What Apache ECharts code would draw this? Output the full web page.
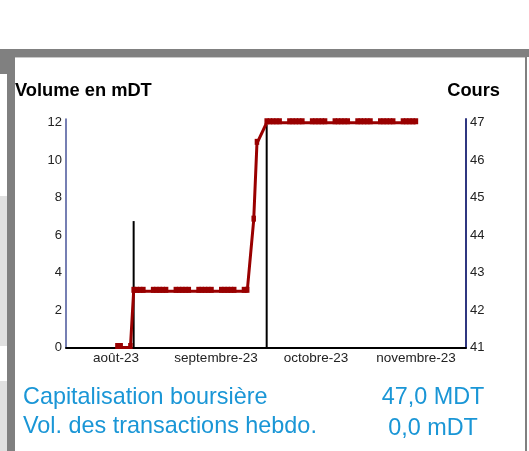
<!DOCTYPE html>
<html>
<head>
<meta charset="utf-8">
<script src="https://cdn.jsdelivr.net/npm/echarts@6/dist/echarts.min.js"></script>
<style>
html,body{margin:0;padding:0;background:#fff;}
#c{width:529px;height:451px;}
</style>
</head>
<body>
<div id="c"></div>
<script>
// ---- data ----
const monthLabels = ['août-23', 'septembre-23', 'octobre-23', 'novembre-23'];

const priceDates = [
  '2023-08-17','2023-08-18','2023-08-21',
  '2023-08-22','2023-08-23','2023-08-24','2023-08-25',
  '2023-08-28','2023-08-29','2023-08-30','2023-08-31','2023-09-01',
  '2023-09-04','2023-09-05','2023-09-06','2023-09-07','2023-09-08',
  '2023-09-11','2023-09-12','2023-09-13','2023-09-14','2023-09-15',
  '2023-09-18','2023-09-19','2023-09-20','2023-09-21','2023-09-22',
  '2023-09-25','2023-09-26','2023-09-28','2023-09-29',
  '2023-10-02','2023-10-03','2023-10-04','2023-10-05','2023-10-06',
  '2023-10-09','2023-10-10','2023-10-11','2023-10-12','2023-10-13',
  '2023-10-16','2023-10-17','2023-10-18','2023-10-19','2023-10-20',
  '2023-10-23','2023-10-24','2023-10-25','2023-10-26','2023-10-27',
  '2023-10-30','2023-10-31','2023-11-01','2023-11-02','2023-11-03',
  '2023-11-06','2023-11-07','2023-11-08','2023-11-09','2023-11-10',
  '2023-11-13','2023-11-14','2023-11-15','2023-11-16','2023-11-17'
];
const priceValues = [
  41.0, 41.0, 41.0,
  42.5, 42.5, 42.5, 42.5,
  42.5, 42.5, 42.5, 42.5, 42.5,
  42.5, 42.5, 42.5, 42.5, 42.5,
  42.5, 42.5, 42.5, 42.5, 42.5,
  42.5, 42.5, 42.5, 42.5, 42.5,
  42.5, 42.5, 44.4, 46.45,
  47.0, 47.0, 47.0, 47.0, 47.0,
  47.0, 47.0, 47.0, 47.0, 47.0,
  47.0, 47.0, 47.0, 47.0, 47.0,
  47.0, 47.0, 47.0, 47.0, 47.0,
  47.0, 47.0, 47.0, 47.0, 47.0,
  47.0, 47.0, 47.0, 47.0, 47.0,
  47.0, 47.0, 47.0, 47.0, 47.0
];

const volumeDates = ['2023-08-22', '2023-10-02'];
const volumeValues = [6.75, 11.9];

const leftTitle = 'Volume en mDT';
const rightTitle = 'Cours';
const infoLabels = ['Capitalisation boursière', 'Vol. des transactions hebdo.'];
const infoValues = ['47,0 MDT', '0,0 mDT'];

// ---- chart ----
const chart = echarts.init(document.getElementById('c'), null, {renderer: 'canvas'});
const FONT = 'Liberation Sans, Arial, sans-serif';
const GREY = '#808080';
const BLUE = '#1a96d6';

const option = {
  animation: false,
  backgroundColor: '#ffffff',
  textStyle: {fontFamily: FONT},
  title: [
    {text: leftTitle, left: 15, top: 82, padding: 0, textStyle: {fontFamily: FONT, fontSize: 18.3, fontWeight: 'bold', color: '#000'}},
    {text: rightTitle, right: 29, top: 82, padding: 0, textStyle: {fontFamily: FONT, fontSize: 18.3, fontWeight: 'bold', color: '#000'}}
  ],
  grid: {left: 66, right: 63, top: 119, bottom: 103.5, containLabel: false},
  xAxis: [
    {
      type: 'time', min: '2023-08-01T11:00:00', max: '2023-12-02T03:00:00',
      axisLine: {show: true, onZero: false, lineStyle: {color: '#000', width: 2}},
      axisTick: {show: false}, axisLabel: {show: false}, splitLine: {show: false}
    },
    {
      type: 'category', data: monthLabels, position: 'bottom', boundaryGap: true,
      axisLine: {show: false}, axisTick: {show: false}, splitLine: {show: false},
      axisLabel: {fontFamily: FONT, fontSize: 13.5, color: '#222', margin: 4, interval: 0}
    }
  ],
  yAxis: [
    {
      type: 'value', position: 'left', min: 0, max: 12.2, interval: 2,
      axisLine: {show: true, lineStyle: {color: '#48559a', width: 1.5}},
      axisTick: {show: false}, splitLine: {show: false},
      axisLabel: {fontFamily: FONT, fontSize: 13, color: '#222', margin: 4, showMaxLabel: false,
        padding: [4, 0, 0, 0],
        formatter: v => (Math.abs(v - Math.round(v)) < 1e-9 ? String(v) : '')}
    },
    {
      type: 'value', position: 'right', min: 41, max: 47.1, interval: 1,
      axisLine: {show: true, lineStyle: {color: '#2f3680', width: 2}},
      axisTick: {show: false}, splitLine: {show: false},
      axisLabel: {fontFamily: FONT, fontSize: 13, color: '#222', margin: 4, showMaxLabel: false,
        padding: [4, 0, 0, 0],
        formatter: v => (Math.abs(v - Math.round(v)) < 1e-9 ? String(v) : '')}
    }
  ],
  series: [
    {
      type: 'bar', xAxisIndex: 0, yAxisIndex: 0, barWidth: 2,
      itemStyle: {color: '#000'},
      data: volumeDates.map((d, i) => [d, volumeValues[i]])
    },
    {
      type: 'line', xAxisIndex: 0, yAxisIndex: 1,
      symbol: 'rect', symbolSize: [4.5, 6], symbolOffset: [0, -1.5], showAllSymbol: true,
      lineStyle: {color: '#990000', width: 3},
      itemStyle: {color: '#990000'},
      data: priceDates.map((d, i) => [d, priceValues[i]])
    }
  ],
  graphic: [
    {type: 'rect', shape: {x: 0, y: 49, width: 529, height: 8}, style: {fill: GREY}, silent: true},
    {type: 'rect', shape: {x: 15, y: 57, width: 510, height: 1}, style: {fill: '#c8c8c8'}, silent: true},
    {type: 'rect', shape: {x: 0, y: 49, width: 15, height: 25}, style: {fill: GREY}, silent: true},
    {type: 'rect', shape: {x: 7, y: 49, width: 8, height: 402}, style: {fill: GREY}, silent: true},
    {type: 'rect', shape: {x: 0, y: 196, width: 7, height: 150}, style: {fill: '#e0e0e0'}, silent: true},
    {type: 'rect', shape: {x: 0, y: 381, width: 7, height: 70}, style: {fill: '#e0e0e0'}, silent: true},
    {type: 'rect', shape: {x: 525, y: 57, width: 2, height: 394}, style: {fill: GREY}, silent: true},
    {type: 'text', left: 23, top: 386.5, style: {text: infoLabels[0], fontFamily: FONT, fontSize: 23.4, fill: BLUE}},
    {type: 'text', left: 23, top: 415, style: {text: infoLabels[1], fontFamily: FONT, fontSize: 23.4, fill: BLUE}},
    {type: 'text', x: 433, y: 386.5, style: {text: infoValues[0], fontFamily: FONT, fontSize: 23.4, fill: BLUE, textAlign: 'center'}},
    {type: 'text', x: 433, y: 417, style: {text: infoValues[1], fontFamily: FONT, fontSize: 23.4, fill: BLUE, textAlign: 'center'}}
  ]
};
chart.setOption(option);
</script>
</body>
</html>
